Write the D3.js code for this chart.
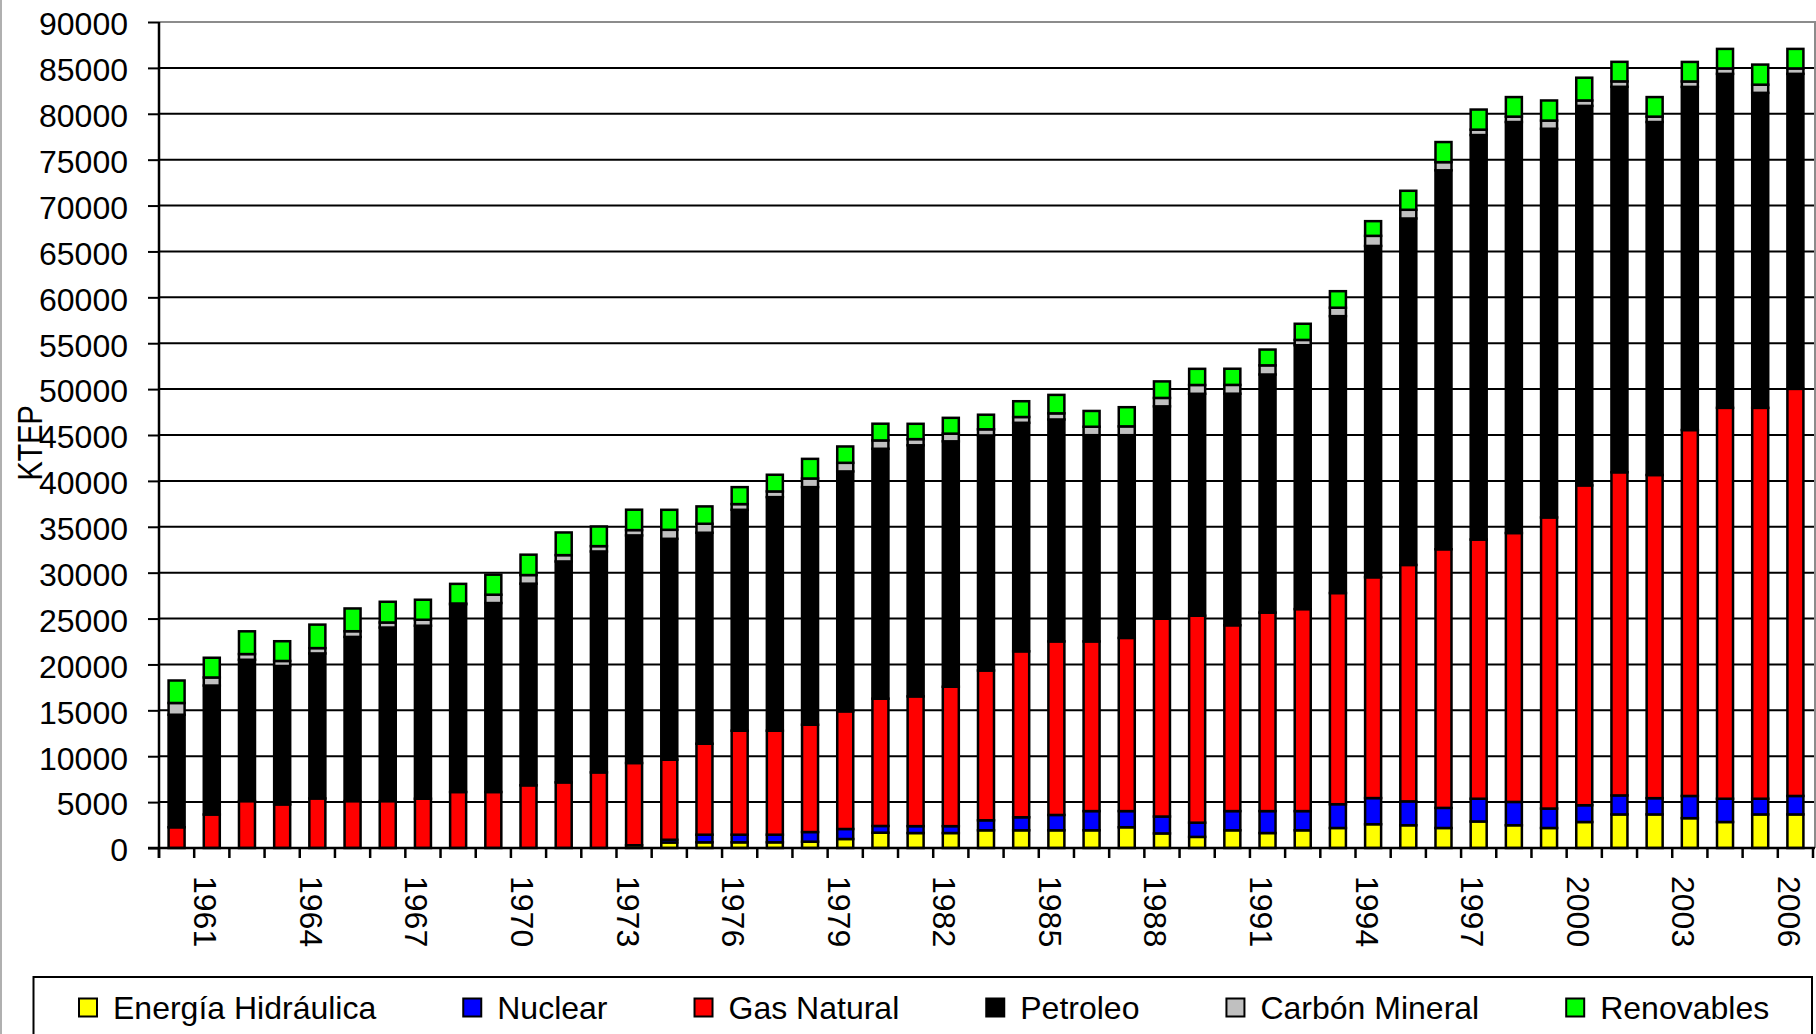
<!DOCTYPE html>
<html><head><meta charset="utf-8">
<script src="https://cdn.jsdelivr.net/npm/d3@7"></script>
<style>
body{margin:0;background:#fff;overflow:hidden;}
svg{display:block;font-family:"Liberation Sans",Arial,sans-serif;}
</style>
</head><body>
<svg id="chart" width="1816" height="1034"></svg>
<script>
const years = [1960,1961,1962,1963,1964,1965,1966,1967,1968,1969,1970,1971,1972,1973,1974,1975,1976,1977,1978,1979,1980,1981,1982,1983,1984,1985,1986,1987,1988,1989,1990,1991,1992,1993,1994,1995,1996,1997,1998,1999,2000,2001,2002,2003,2004,2005,2006];

const hidraulica = [0,0,0,0,0,0,0,0,0,0,0,0,0,300,600,620,620,620,690,980,1670,1630,1630,1930,1930,1930,1930,2260,1590,1210,1930,1630,1930,2180,2590,2480,2180,2890,2480,2180,2830,3660,3660,3250,2830,3660,3660];
const nuclear = [0,0,0,0,0,0,0,0,0,0,0,0,0,0,300,830,830,830,1050,1090,730,750,750,1090,1420,1670,2090,1760,1840,1550,2090,2390,2090,2590,2850,2600,2190,2480,2540,2120,1830,2070,1770,2420,2540,1710,2010];
const gasNatural = [2260,3650,5110,4750,5400,5110,5110,5370,6100,6100,6830,7150,8240,8960,8720,9910,11330,11330,11690,12820,13870,14140,15190,16320,18080,18910,18490,18870,21550,22550,20250,21630,22010,23010,24060,25760,28180,28240,29300,31720,34850,35210,35210,39870,42590,42590,44360];
const petroleo = [12260,14050,15400,15080,15800,17890,18910,18850,20440,20590,21970,24070,24070,24800,24070,22990,24070,25450,25890,26140,27230,27360,26740,25610,24900,24180,22470,22090,23140,24180,25230,25940,28750,30170,36100,37750,41290,44070,44780,42350,41350,42000,38460,37390,36390,34320,34320];
const carbonMineral = [1280,880,620,550,580,620,550,650,100,910,940,690,580,580,980,980,620,620,940,940,910,670,840,670,630,670,920,960,920,960,960,1000,580,920,1100,950,890,590,590,890,590,590,590,590,590,890,590];
const renovables = [2450,2150,2480,2150,2560,2480,2260,2180,2140,2180,2220,2470,2140,2220,2180,1890,1850,1820,2140,1780,1820,1670,1720,1590,1720,2010,1720,2090,1800,1760,1760,1720,1760,1800,1600,2070,2190,2190,2130,2190,2480,2130,2130,2130,2130,2190,2130];

const seriesNames = ["Energía Hidráulica","Nuclear","Gas Natural","Petroleo","Carbón Mineral","Renovables"];
const seriesColors = ["#FFFF00","#0000FF","#FF0000","#000000","#C0C0C0","#00FF00"];
const yTicks = [0,5000,10000,15000,20000,25000,30000,35000,40000,45000,50000,55000,60000,65000,70000,75000,80000,85000,90000];
const xLabelYears = [1961,1964,1967,1970,1973,1976,1979,1982,1985,1988,1991,1994,1997,2000,2003,2006];
const yTitle = "KTEP";

(function () {
const seriesData = [hidraulica, nuclear, gasNatural, petroleo, carbonMineral, renovables];
const keys = seriesNames;
const table = years.map((yr, i) => {
  const row = {year: yr};
  keys.forEach((k, j) => row[k] = seriesData[j][i]);
  return row;
});

const svg = d3.select("#chart");
const pLeft = 159, pRight = 1813, pTop = 22, pBottom = 848;

const x = d3.scaleBand().domain(years).range([pLeft, pRight]).paddingInner(0.545).paddingOuter(0.2725);
const y = d3.scaleLinear().domain([0, 90000]).range([pBottom, pTop]);

svg.append("line").attr("x1", 1).attr("x2", 1).attr("y1", 0).attr("y2", 1034)
  .attr("stroke", "#b0b0b0").attr("stroke-width", 2);

svg.append("g").selectAll("line").data(yTicks.filter(t => t > 0 && t < 90000)).join("line")
  .attr("x1", pLeft).attr("x2", 1815).attr("y1", d => y(d)).attr("y2", d => y(d))
  .attr("stroke", "#000").attr("stroke-width", 2);

svg.append("path")
  .attr("d", `M${pLeft},${y(90000)}H1815V${y(0)}`)
  .attr("fill", "none").attr("stroke", "#8c8c8c").attr("stroke-width", 2);

const stacked = d3.stack().keys(keys)(table);
svg.append("g").selectAll("g").data(stacked).join("g")
  .attr("fill", (d, i) => seriesColors[i])
  .selectAll("rect").data(d => d.filter(s => s[1] - s[0] > 0)).join("rect")
  .attr("x", d => x(d.data.year))
  .attr("width", x.bandwidth())
  .attr("y", d => y(d[1]))
  .attr("height", d => y(d[0]) - y(d[1]))
  .attr("stroke", "#000").attr("stroke-width", 2.5);

const yAxis = d3.axisLeft(y).tickValues(yTicks).tickSize(11).tickPadding(20).tickFormat(d3.format("d"));
const gy = svg.append("g").attr("transform", `translate(${pLeft},0)`).call(yAxis);
gy.select(".domain").remove();
gy.selectAll(".tick line").attr("stroke", "#000").attr("stroke-width", 2);
gy.selectAll(".tick text").attr("font-size", 32).attr("fill", "#000")
  .attr("font-family", '"Liberation Sans",Arial,sans-serif').attr("dy", "0.40em");

const step = x.step();
const boundaries = years.map(yr => x(yr) - (step - x.bandwidth()) / 2).concat([pRight]);
svg.append("g").selectAll("line").data(boundaries).join("line")
  .attr("x1", d => d).attr("x2", d => d).attr("y1", y(0)).attr("y2", y(0) + 10)
  .attr("stroke", "#000").attr("stroke-width", 2.5);

svg.append("line").attr("x1", pLeft).attr("x2", pLeft).attr("y1", y(90000)).attr("y2", y(0) + 10)
  .attr("stroke", "#000").attr("stroke-width", 2.5);
svg.append("line").attr("x1", pLeft - 11).attr("x2", 1815).attr("y1", y(0)).attr("y2", y(0))
  .attr("stroke", "#000").attr("stroke-width", 2.5);

svg.append("g").selectAll("text").data(xLabelYears).join("text")
  .attr("transform", d => `translate(${x(d) + x.bandwidth() / 2 - 17.5},876) rotate(90)`)
  .attr("font-size", 32).attr("fill", "#000").attr("text-anchor", "start")
  .text(d => d);

svg.append("text").attr("transform", "translate(42,443) rotate(-90) scale(0.8,1)")
  .attr("text-anchor", "middle").attr("font-size", 36).attr("fill", "#000").text(yTitle);

const lg = svg.append("g");
lg.append("rect").attr("x", 33.5).attr("y", 977).attr("width", 1778.5).attr("height", 80)
  .attr("fill", "#fff").attr("stroke", "#000").attr("stroke-width", 2);
let lx = 79;
seriesNames.forEach((name, i) => {
  lg.append("rect").attr("x", lx).attr("y", 998.5).attr("width", 18).attr("height", 18)
    .attr("fill", seriesColors[i]).attr("stroke", "#000").attr("stroke-width", 2);
  const t = lg.append("text").attr("x", lx + 34).attr("y", 1019)
    .attr("font-size", 32).attr("fill", "#000").text(name);
  const w = t.node().getComputedTextLength();
  lx = lx + 34 + w + 87;
});
})();
</script>
</body></html>
